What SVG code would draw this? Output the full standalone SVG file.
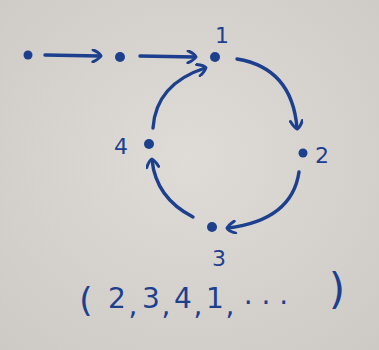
<svg xmlns="http://www.w3.org/2000/svg" width="379" height="350" viewBox="0 0 379 350">
<defs>
<radialGradient id="bg" cx="50%" cy="45%" r="75%">
<stop offset="0" stop-color="#dfdcd7"/>
<stop offset="1" stop-color="#cdcac6"/>
</radialGradient>
<marker id="ah" markerWidth="14" markerHeight="14" refX="9" refY="7" orient="auto" markerUnits="userSpaceOnUse" viewBox="0 0 14 14">
<path d="M2,1 Q9,4 10,7 Q8,10 2,13" fill="none" stroke="#1c3f8e" stroke-width="3" stroke-linecap="round" stroke-linejoin="round"/>
</marker>
<style>
.ln{fill:none;stroke:#1c3f8e;stroke-width:3.4;stroke-linecap:round;marker-end:url(#ah)}
.dot{fill:#1c3f8e}
.lb{font-family:"DejaVu Sans",sans-serif;fill:#1c3f8e;font-size:22px;text-anchor:middle}
.sq{font-family:"DejaVu Sans",sans-serif;fill:#1c3f8e;font-size:28px;text-anchor:middle}
.pr{font-family:"DejaVu Sans",sans-serif;fill:#1c3f8e;font-size:34px;text-anchor:middle}
</style>
</defs>
<rect width="379" height="350" fill="url(#bg)"/>
<g id="connectors">
<path class="ln" d="M45,55 L100,56"/>
<path class="ln" d="M140,56 L195,57"/>
<path class="ln" d="M237,59 Q292,68 297,128"/>
<path class="ln" d="M299,172 Q292,220 228,228"/>
<path class="ln" d="M193,217 Q156,198 152,160"/>
<path class="ln" d="M153,128 Q156,84 205,68"/>
</g>
<g id="nA"><circle class="dot" cx="28" cy="55" r="4.5"/></g>
<g id="nB"><circle class="dot" cx="120" cy="57" r="5"/></g>
<g id="n1"><circle class="dot" cx="215" cy="57" r="5"/><text class="lb" x="222" y="43">1</text></g>
<g id="n2"><circle class="dot" cx="303" cy="153" r="4.5"/><text class="lb" x="322" y="163">2</text></g>
<g id="n3"><circle class="dot" cx="212" cy="227" r="5"/><text class="lb" x="219" y="266">3</text></g>
<g id="n4"><circle class="dot" cx="149" cy="144" r="5"/><text class="lb" x="121" y="154">4</text></g>
<g id="seq">
<text class="pr" x="86" y="312">(</text>
<text class="sq" x="117" y="308">2</text>
<text class="sq" x="133" y="315">,</text>
<text class="sq" x="151" y="308">3</text>
<text class="sq" x="166" y="315">,</text>
<text class="sq" x="183" y="308">4</text>
<text class="sq" x="198" y="315">,</text>
<text class="sq" x="215" y="308">1</text>
<text class="sq" x="230" y="315">,</text>
<text class="sq" x="266" y="304">. . .</text>
<text class="pr" x="337" y="304" style="font-size:42px">)</text>
</g>
</svg>
